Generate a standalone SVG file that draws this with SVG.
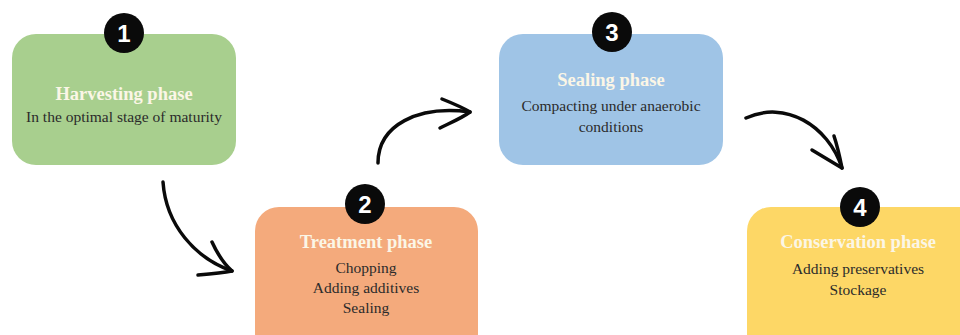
<svg xmlns="http://www.w3.org/2000/svg" width="960" height="335" viewBox="0 0 960 335">
<defs>
<style>
.title{font-family:"Liberation Serif",serif;font-weight:bold;font-size:18.5px;fill:#fbf6e6;text-anchor:middle}
.body{font-family:"Liberation Serif",serif;font-size:15.5px;fill:#2b2b2b;text-anchor:middle}
.badge{fill:#0a0a0a}
.num{font-family:"Liberation Sans",sans-serif;font-weight:bold;font-size:24px;fill:#ffffff;text-anchor:middle}
.arrow{fill:none;stroke:#0a0a0a;stroke-width:3.5;stroke-linecap:round;stroke-linejoin:round}
</style>
</defs>
<rect width="960" height="335" fill="#ffffff"/>
<g id="node1">
<rect x="12" y="34" width="224" height="131" rx="24" fill="#a8cf8e"/>
<circle class="badge" cx="124" cy="33" r="20"/>
<text class="num" x="124" y="42">1</text>
<text class="title" x="124" y="100">Harvesting phase</text>
<text class="body" x="124" y="122">In the optimal stage of maturity</text>
</g>
<g id="node2">
<rect x="255" y="207" width="223" height="150" rx="24" fill="#f4aa7c"/>
<circle class="badge" cx="365" cy="204" r="20"/>
<text class="num" x="365" y="213">2</text>
<text class="title" x="366" y="248">Treatment phase</text>
<text class="body" x="366" y="273">Chopping</text>
<text class="body" x="366" y="293">Adding additives</text>
<text class="body" x="366" y="313">Sealing</text>
</g>
<g id="node3">
<rect x="499" y="34" width="224" height="131" rx="24" fill="#9fc4e6"/>
<circle class="badge" cx="612" cy="32" r="20"/>
<text class="num" x="612" y="41">3</text>
<text class="title" x="611" y="86">Sealing phase</text>
<text class="body" x="611" y="111">Compacting under anaerobic</text>
<text class="body" x="611" y="132">conditions</text>
</g>
<g id="node4">
<rect x="747" y="207" width="240" height="150" rx="24" fill="#fdd766"/>
<circle class="badge" cx="860" cy="207" r="20"/>
<text class="num" x="860" y="216">4</text>
<text class="title" x="858" y="248">Conservation phase</text>
<text class="body" x="858" y="274">Adding preservatives</text>
<text class="body" x="858" y="295">Stockage</text>
</g>
<g id="connectors">
<path class="arrow" d="M163 182 C166 225 195 258 232 271"/>
<path class="arrow" d="M212 242 C218 255 224 264 232 271 C222 273 210 274 198 275"/>
<path class="arrow" d="M378 163 C378 125 418 105 470 112"/>
<path class="arrow" d="M442 99 C452 103 462 107 470 112 C462 118 450 123 440 128"/>
<path class="arrow" d="M746 118 C785 100 828 125 842 168"/>
<path class="arrow" d="M834 136 C838 148 840 158 842 168 C832 162 822 156 812 150"/>
</g>
</svg>
